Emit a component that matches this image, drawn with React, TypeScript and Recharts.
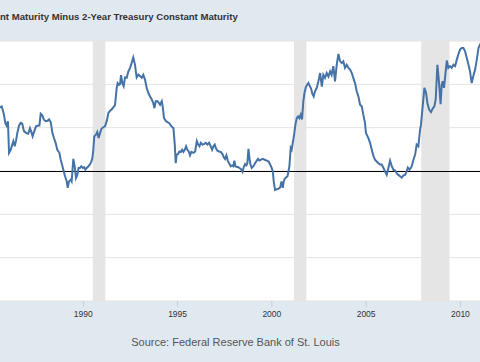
import React from "react";
import {
  ComposedChart,
  Line,
  XAxis,
  YAxis,
  CartesianGrid,
  ReferenceArea,
  ReferenceLine,
} from "recharts";

// decimal years, with the spread (percent) at each
const dates = [
  1985.5, 1985.58, 1985.67, 1985.72, 1985.79, 1985.86, 1985.93, 1986.0, 1986.06, 1986.15,
  1986.23, 1986.29, 1986.36, 1986.43, 1986.5, 1986.59, 1986.68, 1986.76, 1986.85, 1986.96,
  1987.08, 1987.17, 1987.26, 1987.31, 1987.4, 1987.49, 1987.61, 1987.67, 1987.74, 1987.83,
  1987.9, 1988.0, 1988.11, 1988.18, 1988.27, 1988.36, 1988.44, 1988.53, 1988.62, 1988.73,
  1988.8, 1988.87, 1988.94, 1989.03, 1989.12, 1989.17, 1989.24, 1989.33, 1989.38, 1989.47,
  1989.54, 1989.61, 1989.68, 1989.75, 1989.82, 1989.89, 1989.97, 1990.04, 1990.11, 1990.18,
  1990.27, 1990.35, 1990.43, 1990.48, 1990.53, 1990.58, 1990.67, 1990.74, 1990.81, 1990.89,
  1990.97, 1991.06, 1991.15, 1991.24, 1991.33, 1991.42, 1991.5, 1991.59, 1991.68, 1991.77,
  1991.82, 1991.89, 1991.95, 1992.0, 1992.07, 1992.14, 1992.21, 1992.3, 1992.39, 1992.48,
  1992.56, 1992.65, 1992.74, 1992.83, 1992.92, 1993.01, 1993.1, 1993.18, 1993.27, 1993.36,
  1993.45, 1993.54, 1993.63, 1993.71, 1993.77, 1993.84, 1993.94, 1994.07, 1994.16, 1994.21,
  1994.28, 1994.37, 1994.46, 1994.55, 1994.64, 1994.72, 1994.78, 1994.85, 1994.9, 1994.95,
  1995.02, 1995.1, 1995.17, 1995.24, 1995.31, 1995.38, 1995.45, 1995.52, 1995.59, 1995.66,
  1995.73, 1995.84, 1995.93, 1996.02, 1996.09, 1996.16, 1996.23, 1996.32, 1996.4, 1996.49,
  1996.58, 1996.67, 1996.76, 1996.83, 1996.9, 1996.97, 1997.04, 1997.11, 1997.2, 1997.29,
  1997.38, 1997.45, 1997.52, 1997.59, 1997.66, 1997.73, 1997.82, 1997.89, 1997.96, 1998.01,
  1998.07, 1998.14, 1998.21, 1998.28, 1998.35, 1998.44, 1998.51, 1998.58, 1998.65, 1998.7,
  1998.76, 1998.81, 1998.86, 1998.93, 1999.02, 1999.11, 1999.2, 1999.27, 1999.34, 1999.43,
  1999.52, 1999.62, 1999.73, 1999.83, 1999.91, 1999.99, 2000.05, 2000.1, 2000.17, 2000.26,
  2000.35, 2000.44, 2000.51, 2000.58, 2000.63, 2000.68, 2000.75, 2000.83, 2000.88, 2000.93,
  2001.0, 2001.05, 2001.11, 2001.18, 2001.25, 2001.32, 2001.39, 2001.46, 2001.53, 2001.6,
  2001.67, 2001.73, 2001.8, 2001.87, 2001.94, 2002.01, 2002.08, 2002.15, 2002.22, 2002.29,
  2002.38, 2002.47, 2002.56, 2002.65, 2002.73, 2002.82, 2002.91, 2003.0, 2003.09, 2003.17,
  2003.26, 2003.35, 2003.44, 2003.53, 2003.62, 2003.71, 2003.79, 2003.88, 2003.97, 2004.06,
  2004.15, 2004.24, 2004.32, 2004.41, 2004.5, 2004.59, 2004.68, 2004.77, 2004.85, 2004.94,
  2004.99, 2005.12, 2005.21, 2005.3, 2005.39, 2005.47, 2005.56, 2005.65, 2005.74, 2005.83,
  2005.92, 2006.0, 2006.09, 2006.18, 2006.27, 2006.36, 2006.45, 2006.53, 2006.62, 2006.71,
  2006.8, 2006.89, 2006.98, 2007.07, 2007.15, 2007.21, 2007.3, 2007.37, 2007.42, 2007.51,
  2007.6, 2007.68, 2007.77, 2007.86, 2007.91, 2008.0, 2008.09, 2008.18, 2008.25, 2008.34,
  2008.44, 2008.53, 2008.62, 2008.69, 2008.78, 2008.85, 2008.95, 2009.01, 2009.06, 2009.13,
  2009.22, 2009.28, 2009.36, 2009.45, 2009.54, 2009.63, 2009.72, 2009.81, 2009.89, 2009.98,
  2010.07, 2010.16, 2010.25, 2010.34, 2010.43, 2010.51, 2010.6, 2010.69, 2010.78, 2010.87,
  2010.96, 2011.04, 2011.1,
];

const spread = [
  1.46, 1.47, 1.49, 1.42, 1.3, 1.11, 1.05, 1.15, 0.42, 0.49,
  0.61, 0.69, 0.57, 0.7, 0.88, 1.05, 1.11, 1.09, 0.92, 0.88,
  0.86, 0.99, 0.88, 0.8, 0.92, 1.03, 1.05, 1.05, 1.32, 1.28,
  1.19, 1.15, 1.16, 1.19, 1.13, 0.88, 0.76, 0.65, 0.49, 0.42,
  0.26, 0.15, 0.03, -0.12, -0.24, -0.39, -0.24, -0.2, -0.24, 0.28,
  0.11, -0.16, -0.09, 0.07, 0.07, 0.11, 0.07, 0.09, 0.03, 0.07,
  0.11, 0.15, 0.22, 0.3, 0.49, 0.8, 0.84, 0.9, 0.76, 0.88,
  0.98, 1.01, 1.03, 1.15, 1.34, 1.39, 1.42, 1.47, 1.52, 1.92,
  2.03, 1.99, 2.01, 2.21, 2.03, 1.96, 2.16, 2.15, 2.3, 2.38,
  2.49, 2.62, 2.45, 2.16, 2.22, 2.19, 2.15, 2.22, 2.11, 1.92,
  1.8, 1.72, 1.65, 1.57, 1.45, 1.61, 1.61, 1.53, 1.61, 1.49,
  1.22, 1.16, 1.13, 1.11, 1.05, 1.01, 0.99, 0.61, 0.18, 0.38,
  0.39, 0.45, 0.44, 0.49, 0.44, 0.49, 0.57, 0.49, 0.45, 0.36,
  0.44, 0.42, 0.45, 0.69, 0.61, 0.57, 0.65, 0.61, 0.62, 0.65,
  0.61, 0.65, 0.57, 0.49, 0.57, 0.61, 0.52, 0.47, 0.45, 0.44,
  0.39, 0.32, 0.28, 0.36, 0.24, 0.18, 0.11, 0.13, 0.11, 0.24,
  0.11, 0.09, 0.09, 0.07, 0.05, -0.02, 0.09, 0.16, 0.13, 0.18,
  0.51, 0.3, 0.16, 0.07, 0.11, 0.18, 0.24, 0.28, 0.24, 0.26,
  0.28, 0.26, 0.24, 0.22, 0.15, 0.07, -0.01, -0.24, -0.44, -0.42,
  -0.41, -0.38, -0.24, -0.39, -0.24, -0.18, -0.15, -0.12, -0.01, 0.11,
  0.53, 0.49, 0.65, 0.84, 1.07, 1.22, 1.26, 1.22, 1.3, 1.19,
  1.61, 1.8, 1.93, 1.99, 2.03, 1.96, 1.9, 1.78, 1.72, 1.84,
  1.92, 2.07, 2.26, 1.95, 2.22, 2.15, 2.26, 2.18, 2.3, 2.22,
  2.42, 2.07, 2.45, 2.7, 2.53, 2.49, 2.53, 2.38, 2.45, 2.38,
  2.34, 2.26, 2.15, 2.03, 1.84, 1.72, 1.53, 1.49, 1.3, 1.11,
  0.88, 0.76, 0.65, 0.49, 0.34, 0.26, 0.22, 0.18, 0.15, 0.15,
  0.07, -0.01, -0.09, 0.07, 0.24, 0.11, 0.03, 0.01, -0.05, -0.09,
  -0.12, -0.15, -0.1, -0.09, -0.01, 0.08, 0.03, 0.07, 0.11, 0.26,
  0.38, 0.61, 0.57, 0.95, 1.07, 1.49, 1.92, 1.8, 1.57, 1.42,
  1.36, 1.44, 1.49, 1.65, 2.45, 2.13, 1.54, 1.99, 2.07, 1.92,
  2.3, 2.55, 2.38, 2.42, 2.38, 2.45, 2.42, 2.57, 2.69, 2.8,
  2.84, 2.84, 2.76, 2.61, 2.45, 2.3, 2.03, 2.2, 2.34, 2.57,
  2.84, 2.92, 2.95,
];

// recession shading (start, end)
const recessionStart = [1990.5, 2001.17, 2007.92];
const recessionEnd = [1991.17, 2001.83, 2009.42];

const yearTicks = [1990, 1995, 2000, 2005, 2010];
const valueTicks = [-3, -2, -1, 0, 1, 2, 3];

const data = dates.map((t, i) => ({ t, v: spread[i] }));

const font = '"Liberation Sans", Arial, sans-serif';

export default function App() {
  return (
    <div
      style={{
        position: "absolute",
        left: 0,
        top: 0,
        width: 480,
        height: 362,
        overflow: "hidden",
        background: "#e1e9f0",
        fontFamily: font,
      }}
    >
      <div
        style={{
          position: "absolute",
          left: 0,
          top: 12,
          fontSize: 9.6,
          lineHeight: "10px",
          fontWeight: "bold",
          color: "#333",
          whiteSpace: "nowrap",
        }}
      >
        nt Maturity Minus 2-Year Treasury Constant Maturity
      </div>
      <ComposedChart
        width={480}
        height={362}
        data={data}
        margin={{ top: 41, right: 0, bottom: 0, left: 0 }}
      >
        <CartesianGrid
          vertical={false}
          stroke="#e4e4e4"
          strokeWidth={1}
          fill="#ffffff"
          fillOpacity={1}
        />
        {recessionStart.map((s, i) => (
          <ReferenceArea
            key={s}
            x1={s}
            x2={recessionEnd[i]}
            fill="#e5e5e5"
            fillOpacity={1}
            stroke="none"
            ifOverflow="hidden"
          />
        ))}
        <XAxis
          dataKey="t"
          type="number"
          domain={[1985.58, 2011.04]}
          allowDataOverflow
          ticks={yearTicks}
          height={61}
          axisLine={false}
          tickSize={6}
          tickMargin={4}
          tickLine={{ stroke: "#c0d0e0" }}
          tick={{ fontSize: 8.5, fill: "#333", fontFamily: font }}
        />
        <YAxis
          type="number"
          domain={[-3, 3]}
          ticks={valueTicks}
          allowDataOverflow
          hide
          width={0}
        />
        <ReferenceLine
          y={0}
          stroke="#000"
          strokeWidth={1}
          shapeRendering="crispEdges"
        />
        <Line
          type="linear"
          dataKey="v"
          stroke="#4572a7"
          strokeWidth={2}
          dot={false}
          isAnimationActive={false}
        />
      </ComposedChart>
      <div
        style={{
          position: "absolute",
          left: 0,
          width: 471,
          top: 337,
          fontSize: 11,
          lineHeight: "11px",
          textAlign: "center",
          color: "#555",
          whiteSpace: "nowrap",
        }}
      >
        Source: Federal Reserve Bank of St. Louis
      </div>
    </div>
  );
}
